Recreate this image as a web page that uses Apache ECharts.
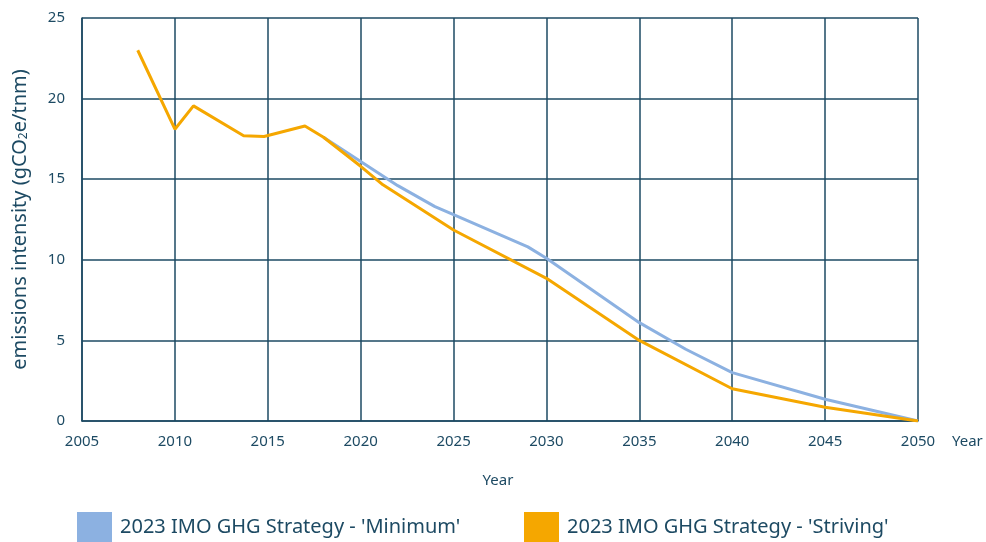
<!DOCTYPE html>
<html>
<head>
<meta charset="utf-8">
<script src="https://cdn.jsdelivr.net/npm/echarts@6/dist/echarts.min.js"></script>
<style>
  html, body { margin: 0; padding: 0; background: #fff; }
  #chart { width: 986px; height: 542px; }
</style>
</head>
<body>
<div id="chart"></div>
<script>
const yearTicks = [2005, 2010, 2015, 2020, 2025, 2030, 2035, 2040, 2045, 2050]
const minimumYears = [2018, 2020, 2022, 2024, 2025, 2029, 2030, 2035, 2037.5, 2040, 2045, 2050]
const minimumValues = [17.6, 16.1, 14.6, 13.3, 12.8, 10.8, 10.1, 6.1, 4.45, 3.0, 1.35, 0]
const strivingYears = [2008, 2010, 2011, 2013.7, 2014.8, 2017, 2018, 2020, 2021.2, 2025, 2030, 2035, 2040, 2045, 2050]
const strivingValues = [23.0, 18.1, 19.55, 17.7, 17.65, 18.3, 17.6, 15.8, 14.65, 11.85, 8.85, 5.0, 2.0, 0.85, 0]

const ink = '#1d4a63'
const font = 'Noto Sans'

const pairs = (xs, ys) => xs.map((x, i) => [x, ys[i]])

const legendText = { fontFamily: font, fontSize: 20, color: ink, padding: [12, 0, 0, 3] }

const chart = echarts.init(document.getElementById('chart'))
chart.setOption({
    animation: false,
    textStyle: { fontFamily: font, color: ink },
    title: {
        text: 'Year',
        left: 493,
        top: 468,
        textAlign: 'center',
        textStyle: { fontFamily: font, fontSize: 15, fontWeight: 'normal', color: ink }
    },
    grid: { left: 82, right: 68, top: 18, bottom: 121 },
    legend: [
        {
            data: ["2023 IMO GHG Strategy - 'Minimum'"],
            left: 77, top: 512, padding: 0,
            icon: 'rect', itemWidth: 35, itemHeight: 30,
            textStyle: legendText
        },
        {
            data: ["2023 IMO GHG Strategy - 'Striving'"],
            left: 524, top: 512, padding: 0,
            icon: 'rect', itemWidth: 35, itemHeight: 30,
            textStyle: legendText
        }
    ],
    xAxis: {
        type: 'value',
        min: yearTicks[0],
        max: yearTicks[yearTicks.length - 1],
        interval: 5,
        name: 'Year',
        nameLocation: 'end',
        nameGap: 34,
        nameTextStyle: { fontSize: 15, color: ink, verticalAlign: 'top', padding: [13, 0, 0, 0] },
        axisLine: { lineStyle: { color: ink, width: 1.5 } },
        axisTick: { show: false },
        axisLabel: { fontSize: 15, color: ink, margin: 13, formatter: v => String(v) },
        splitLine: { show: true, lineStyle: { color: ink, width: 1.5 } }
    },
    yAxis: {
        type: 'value',
        min: 0,
        max: 25,
        interval: 5,
        name: 'emissions intensity (gCO{sub|2}e/tnm)',
        nameLocation: 'middle',
        nameGap: 52,
        nameTextStyle: {
            fontSize: 20, color: ink,
            rich: { sub: { fontSize: 12, color: ink, verticalAlign: 'bottom', padding: [8, 0, 0, 0] } }
        },
        axisLine: { show: true, lineStyle: { color: ink, width: 1.5 } },
        axisTick: { show: false },
        axisLabel: { fontSize: 15, color: ink, margin: 17 },
        splitLine: { show: true, lineStyle: { color: ink, width: 1.5 } }
    },
    series: [
        {
            name: "2023 IMO GHG Strategy - 'Minimum'",
            type: 'line',
            data: pairs(minimumYears, minimumValues),
            showSymbol: false,
            color: '#8cb1e1',
            lineStyle: { width: 3 }
        },
        {
            name: "2023 IMO GHG Strategy - 'Striving'",
            type: 'line',
            data: pairs(strivingYears, strivingValues),
            showSymbol: false,
            color: '#f5a700',
            lineStyle: { width: 3 }
        }
    ]
})
</script>
</body>
</html>
